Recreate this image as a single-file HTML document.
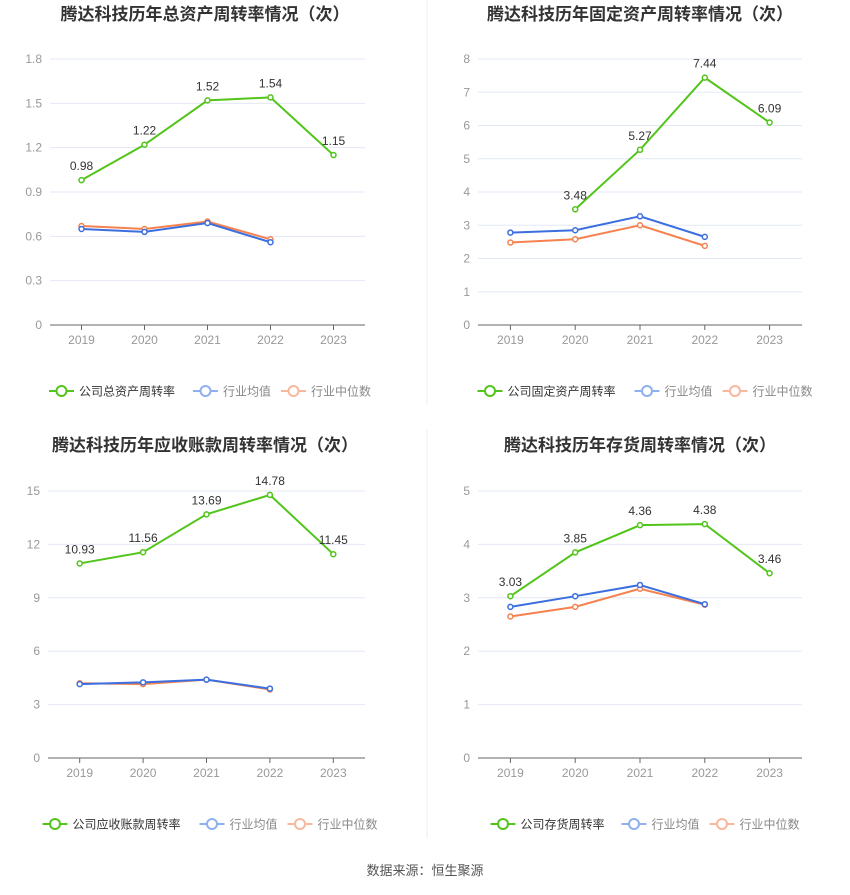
<!DOCTYPE html>
<html><head><meta charset="utf-8"><style>
body{margin:0;width:850px;height:890px;background:#fff;font-family:"Liberation Sans","Noto Sans CJK SC",sans-serif;overflow:hidden}
svg text{font-family:"Liberation Sans","Noto Sans CJK SC",sans-serif}
</style></head><body>
<svg id="s" width="850" height="890">
<line x1="427" y1="0" x2="427" y2="405" stroke="#eee"/>
<line x1="427" y1="430" x2="427" y2="838" stroke="#eee"/>
<text x="425" y="875" text-anchor="middle" font-size="13" fill="#555">数据来源：恒生聚源</text>
</svg>
<script>
const years=["2019","2020","2021","2022","2023"];
const c1Company=[0.98,1.22,1.52,1.54,1.15];
const c1Avg=[0.65,0.63,0.69,0.56,null];
const c1Median=[0.67,0.65,0.70,0.58,null];
const c1Ticks=[0,0.3,0.6,0.9,1.2,1.5,1.8];
const c2Company=[null,3.48,5.27,7.44,6.09];
const c2Avg=[2.78,2.85,3.27,2.65,null];
const c2Median=[2.48,2.58,3.00,2.38,null];
const c2Ticks=[0,1,2,3,4,5,6,7,8];
const c3Company=[10.93,11.56,13.69,14.78,11.45];
const c3Avg=[4.15,4.25,4.40,3.90,null];
const c3Median=[4.20,4.15,4.40,3.85,null];
const c3Ticks=[0,3,6,9,12,15];
const c4Company=[3.03,3.85,4.36,4.38,3.46];
const c4Avg=[2.83,3.03,3.24,2.88,null];
const c4Median=[2.65,2.83,3.17,2.87,null];
const c4Ticks=[0,1,2,3,4,5];
const titles=["腾达科技历年总资产周转率情况（次）","腾达科技历年固定资产周转率情况（次）","腾达科技历年应收账款周转率情况（次）","腾达科技历年存货周转率情况（次）"];
const names=["公司总资产周转率","公司固定资产周转率","公司应收账款周转率","公司存货周转率"];
const svg=document.getElementById('s');
const NS="http://www.w3.org/2000/svg";
function mk(tag,attrs,parent){const e=document.createElementNS(NS,tag);for(const k in attrs)e.setAttribute(k,attrs[k]);(parent||svg).appendChild(e);return e;}
function chart(idx,x0,x1,yTop,yBot,ticks,company,avg,median,dec,cx,ty,ly){
  const g=mk('g',{});
  
  
  const max=ticks[ticks.length-1];
  const yS=v=>yBot-(v/max)*(yBot-yTop);
  const bw=(x1-x0)/years.length;
  const xS=i=>x0+bw*(i+0.5);
  const t=mk('text',{x:cx,y:ty,'text-anchor':'middle','font-size':17,'font-weight':'bold',fill:'#333'},g);t.textContent=titles[idx];
  
  
  ticks.forEach(v=>{
    if(v>0){const l=mk('line',{x1:x0,x2:x1,y1:yS(v),y2:yS(v),stroke:'#e3e8f5'},g);
    
    }
    const tt=mk('text',{x:x0-8,y:yS(v)+4,'text-anchor':'end','font-size':12,fill:'#999'},g);tt.textContent=String(v);
    
    
  });
  const ax=mk('line',{x1:x0,x2:x1,y1:yBot,y2:yBot,stroke:'#666'},g);
  
  
  years.forEach((y,i)=>{
    mk('line',{x1:xS(i),x2:xS(i),y1:yBot,y2:yBot+5,stroke:'#666'},g);
    const tt=mk('text',{x:xS(i),y:yBot+19,'text-anchor':'middle','font-size':12,fill:'#999'},g);tt.textContent=y;
    
    
  });
  function series(arr,color,name,labels){
    let d='';arr.forEach((v,i)=>{if(v==null)return;d+=(d?'L':'M')+xS(i)+','+yS(v);});
    const p=mk('path',{d:d,fill:'none',stroke:color,'stroke-width':2},g);
    
    
    arr.forEach((v,i)=>{if(v==null)return;
      const c=mk('circle',{cx:xS(i),cy:yS(v),r:2.5,fill:'#fff',stroke:color,'stroke-width':1.5},g);
      
      
      if(labels){const l=mk('text',{x:xS(i),y:yS(v)-10,'text-anchor':'middle','font-size':12,fill:'#333'},g);l.textContent=v.toFixed(2);
        
        }
    });
  }
  series(median,'#f5824f','median',false);
  series(avg,'#3b6fe0','average',false);
  series(company,'#52c41a','company',true);
  const leg=[[names[idx],'#52c41a','#333'],['行业均值','#8fb0f0','#888'],['行业中位数','#f9b79d','#888']];
  let lx=x0+(idx%2==0?0:0);
  const widths=[names[idx].length*13+40,88,100];
  let total=widths.reduce((a,b)=>a+b,0);
  lx=cx-total/2+10;
  leg.forEach((L,k)=>{
    const lg=mk('g',{},g);
    
    
    mk('line',{x1:lx,x2:lx+25,y1:ly,y2:ly,stroke:L[1],'stroke-width':2},lg);
    mk('circle',{cx:lx+12.5,cy:ly,r:5,fill:'#fff',stroke:L[1],'stroke-width':2},lg);
    const tt=mk('text',{x:lx+30,y:ly+4.5,'font-size':12,fill:L[2]},lg);tt.textContent=L[0];
    lx+=widths[k];
  });
}
chart(0,50,365,59,325,c1Ticks,c1Company,c1Avg,c1Median,2,205,20,391);
chart(1,478,802,59,325,c2Ticks,c2Company,c2Avg,c2Median,2,640,20,391);
chart(2,48,365,491,758,c3Ticks,c3Company,c3Avg,c3Median,2,205,451,824);
chart(3,478,802,491,758,c4Ticks,c4Company,c4Avg,c4Median,2,640,451,824);
</script>
</body></html>
